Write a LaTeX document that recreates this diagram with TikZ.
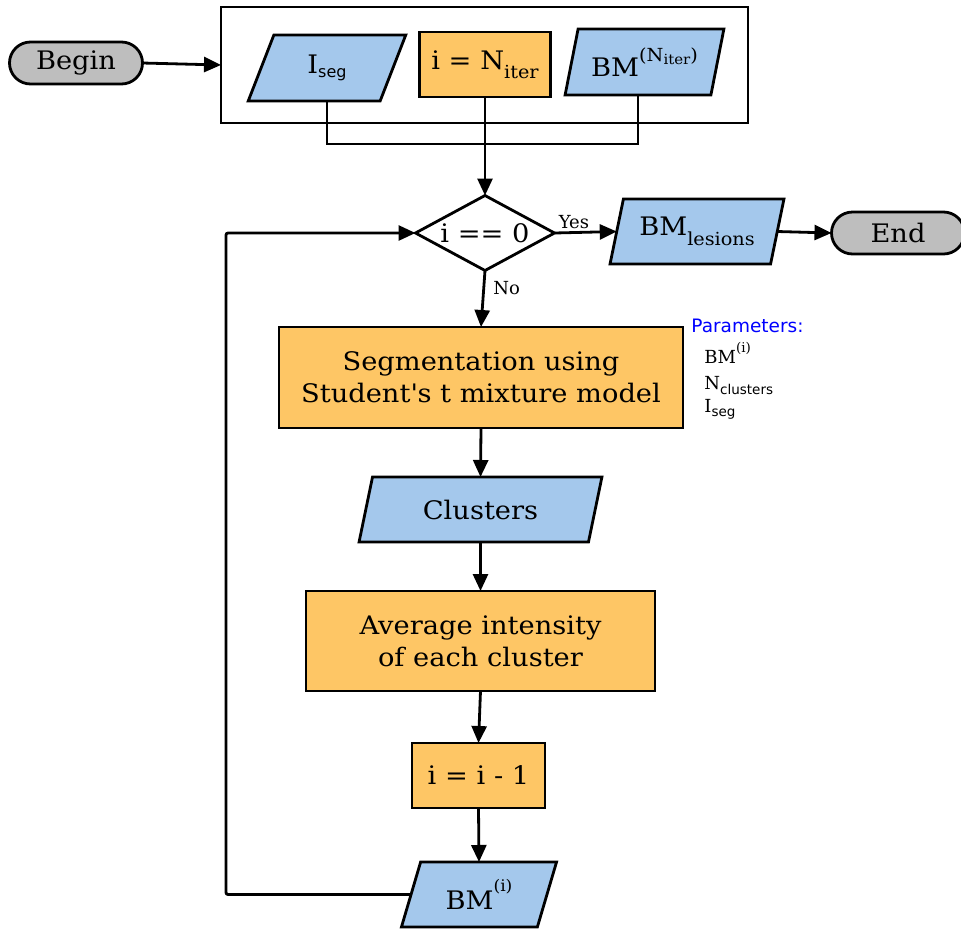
\documentclass[tikz,border=0pt]{standalone}
\usepackage{fontspec}
\setmainfont{DejaVu Serif}
\newfontfamily\sansf{DejaVu Sans}
\newfontfamily\widef{DejaVu Serif}[FakeStretch=1.07]
\usetikzlibrary{shapes.geometric,arrows.meta,calc}
\definecolor{boxblue}{RGB}{164,200,236}
\definecolor{boxorange}{RGB}{254,198,101}
\definecolor{capgray}{RGB}{190,190,190}
% shifted small text for indices: [size]{shift}{text}
\newcommand\idx[3][17]{\raisebox{#2}{\fontsize{#1}{#1}\selectfont #3}}
\begin{document}
\begin{tikzpicture}[x=1pt,y=-1pt,line width=2.8pt,
  >={Triangle[length=17pt,width=15pt]},
  base/.style={draw=black,line width=2.8pt,inner sep=0pt,outer sep=0pt,
    font=\widef\fontsize{25.5}{32}\selectfont,align=center},
  proc/.style={base,rectangle,fill=boxorange},
  data/.style={base,trapezium,trapezium left angle=70,trapezium right angle=110,
    trapezium stretches=true,fill=boxblue},
  term/.style={base,rectangle,rounded corners=21pt,fill=capgray,
    minimum width=133pt,minimum height=42pt},
  decision/.style={base,diamond,aspect=1.8,fill=white,minimum width=139pt,minimum height=75pt},
  flow/.style={->,line width=2.8pt},
  lbl/.style={font=\fontsize{18}{18}\selectfont,inner sep=0pt},
  par/.style={inner sep=0pt,anchor=base west}]
\useasboundingbox (0,0) rectangle (961,930);

% inputs
\node[base,rectangle,minimum width=527pt,minimum height=116pt] (inputs) at (484.5,65) {};
\node[data,minimum width=158pt,minimum height=66pt] (iseg) at (327,68)
  {I\idx[16]{-4pt}{\sansf seg}};
\node[proc,minimum width=131pt,minimum height=65pt] (niter) at (485,64.5)
  {i = N\idx[18]{-9pt}{iter}};
\node[data,minimum width=159pt,minimum height=66pt] (bmn) at (644.5,62)
  {BM\idx[18]{15pt}{(N\idx[14]{-3pt}{iter})}};
\node[term] (begin) at (76,63) {Begin};

% decision and exits
\node[decision] (dec) at (485,233) {i == 0};
\node[data,minimum width=174pt,minimum height=65pt] (bml) at (697,231.5)
  {BM\idx[18]{-10pt}{lesions}};
\node[term] (end) at (898,233) {End};

% loop body
\node[proc,minimum width=404pt,minimum height=101pt] (seg) at (481,377.5)
  {Segmentation using\\Student\textquotesingle s t mixture model};
\node[data,minimum width=243pt,minimum height=65pt] (clus) at (480.5,509.5) {Clusters};
\node[proc,minimum width=349pt,minimum height=100pt] (avg) at (480.5,641)
  {Average intensity\\of each cluster};
\node[proc,minimum width=133pt,minimum height=65pt] (decr) at (478.5,775.5) {i = i - 1};
\node[data,minimum width=156pt,minimum height=65pt] (bmi) at (479,894.5)
  {BM\idx[16]{18pt}{(i)}};

% parameter list
\node[par,font=\sansf\fontsize{18.5}{18.5}\selectfont,text=blue] (ptitle) at (690,332) {Parameters:};
\node[par,font=\fontsize{18}{18}\selectfont] (p1) at (703,363)
  {BM\idx[13.5]{11pt}{(i)}};
\node[par,font=\fontsize{18}{18}\selectfont] (p2) at (703,389)
  {N\idx[13.5]{-5pt}{\sansf clusters}};
\node[par,font=\fontsize{18}{18}\selectfont] (p3) at (703,412)
  {I\idx[13.5]{-4pt}{\sansf seg}};

% connectors
\coordinate (bmnb) at ($(bmn.bottom left corner)!0.5!(bmn.bottom right corner)$);
\coordinate (bus) at (485,144);
\coordinate (loopx) at (226,0);
\draw (iseg.south) |- (bus) -| (bmnb);
\draw[flow] (niter.south) -- (dec.north);
\draw[flow] (begin.east) -- (inputs.west);
\draw[flow] (dec.east) -- (bml.west)
  node[lbl,pos=0,anchor=base west,xshift=3pt,yshift=5pt] {Yes};
\draw[flow] (bml.east) -- (end.west);
\draw[flow] (dec.south) -- (seg.north)
  node[lbl,pos=0,anchor=base west,xshift=7pt,yshift=-24pt] {No};
\draw[flow] (seg.south) -- (clus.north);
\draw[flow] (clus.south) -- (avg.north);
\draw[flow] (avg.south) -- (decr.north);
\draw[flow] (decr.south) -- (bmi.north);
\draw[flow,rounded corners=2pt] (bmi.west) -- (bmi.west -| loopx) |- (dec.west);
\end{tikzpicture}
\end{document}
